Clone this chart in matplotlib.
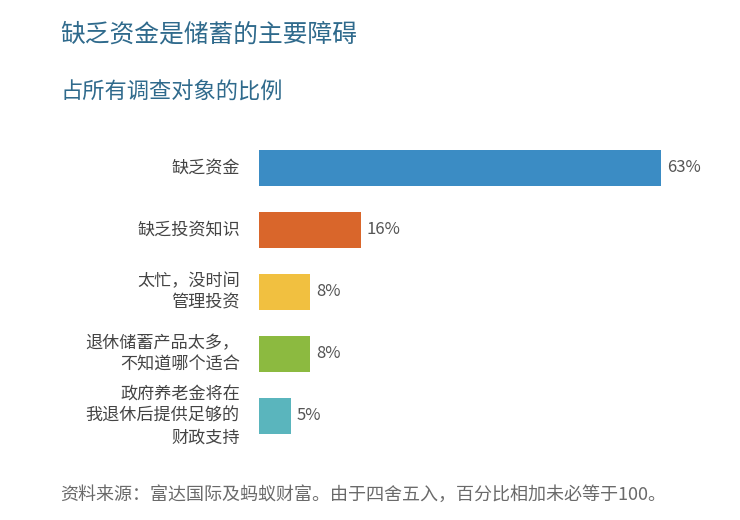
import matplotlib.pyplot as plt

plt.rcParams['font.family'] = ['Noto Sans CJK SC', 'DejaVu Sans']

categories = ['缺乏资金', '缺乏投资知识', '太忙，没时间\n管理投资',
              '退休储蓄产品太多，\n不知道哪个适合', '政府养老金将在\n我退休后提供足够的\n财政支持']
values = [63, 16, 8, 8, 5]
colors = ['#3b8cc4', '#d9662b', '#f1c040', '#8cba40', '#5ab5bd']

W, H = 740, 520
fig = plt.figure(figsize=(W / 100, H / 100), dpi=100)

# axes in pixel coords: x 259..661, y 137..447
ax = fig.add_axes([259 / W, (H - 447) / H, (661 - 259) / W, 310 / H])
ypos = range(len(values))
ax.barh(ypos, values, height=0.58, color=colors)
ax.set_xlim(0, 63)
ax.set_ylim(len(values) - 0.5, -0.5)
ax.axis('off')

for y, v, lab in zip(ypos, values, categories):
    ax.text(v + 0.9, y, f'{v}%', va='center', ha='left', fontsize=12,
            color='#555555', clip_on=False)
    ax.text(-3, y, lab, va='center', ha='right', fontsize=12.3,
            color='#444444', linespacing=1.25, clip_on=False)

fig.text(60 / W, 1 - 34 / H, '缺乏资金是储蓄的主要障碍', fontsize=17.8,
         color='#2f6a8c', va='center', ha='left')
fig.text(60 / W, 1 - 92 / H, '占所有调查对象的比例', fontsize=16,
         color='#2f6a8c', va='center', ha='left')
fig.text(60 / W, 1 - 495 / H,
         '资料来源：富达国际及蚂蚁财富。由于四舍五入，百分比相加未必等于100。',
         fontsize=13, color='#6a6a6a', va='center', ha='left')

fig.savefig('out.png', dpi=100)
